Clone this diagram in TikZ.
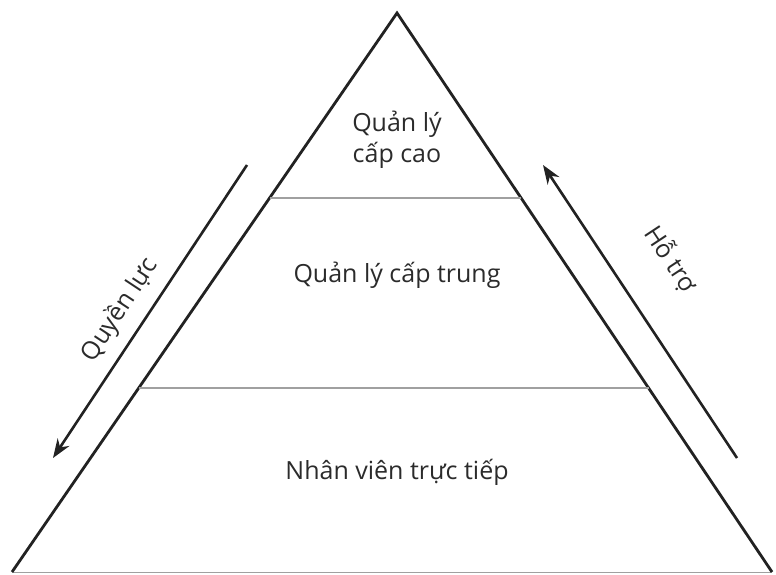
\documentclass[tikz,border=0pt]{standalone}
\usepackage{fontspec}
\setmainfont{Open Sans}
\usetikzlibrary{calc,arrows.meta}

\definecolor{edge}{HTML}{222222}
\definecolor{sep}{HTML}{A0A0A0}
\definecolor{txt}{HTML}{2B2B2B}

\begin{document}
\begin{tikzpicture}[x=1pt, y=1pt]
			\useasboundingbox (0,0) rectangle (776,574);
			\tikzstyle{every node}=[align=center, inner sep=1pt, text=txt, font=\fontsize{25}{31}\selectfont]
			\tikzstyle{side}=[draw=edge, line width=2.8pt, line join=miter]
			\tikzstyle{flow}=[draw=edge, line width=2.6pt, -{Stealth[length=19pt, width=14pt]}]

			% pyramid corners
			\coordinate (top) at (397, 561);
			\coordinate (bl) at (12, 2);
			\coordinate (br) at (772, 2);

			\draw[sep, line width=1pt] (bl) -- (br);
			\draw[side] (bl) -- (top) -- (br);

			% level borders
			\draw[sep, line width=1.5pt] ($(top)!0.331!(bl)$) -- ($(top)!0.331!(br)$);
			\draw[sep, line width=1.5pt] ($(top)!0.671!(bl)$) -- ($(top)!0.671!(br)$);

			\node (upper) at (397, 434) {Quản lý\\cấp cao};
			\node (middle) at (397, 299) {Quản lý cấp trung};
			\node (lower) at (397, 102) {Nhân viên trực tiếp};

			% power goes down, support goes up
			\coordinate (qstart) at (247, 409);
			\coordinate (qend) at (53, 116);
			\coordinate (hstart) at (737, 116);
			\coordinate (hend) at (543, 409);
			\draw[flow] (qstart) -- (qend);
			\draw[flow] (hstart) -- (hend);

			\node[rotate=56.5] (power) at (120, 264) {Quyền lực};
			\node[rotate=-56.5] (support) at (671, 315) {Hỗ trợ};
\end{tikzpicture}
\end{document}
